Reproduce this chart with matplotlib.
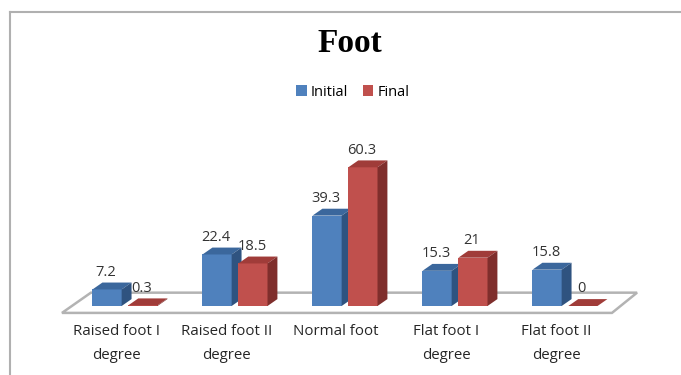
import matplotlib.pyplot as plt
from matplotlib.patches import Polygon
from matplotlib.lines import Line2D

categories = ['Raised foot I\ndegree', 'Raised foot II\ndegree', 'Normal foot',
              'Flat foot I\ndegree', 'Flat foot II\ndegree']
initial = [7.2, 22.4, 39.3, 15.3, 15.8]
final = [0.3, 18.5, 60.3, 21, 0]
value_labels_initial = ['7.2', '22.4', '39.3', '15.3', '15.8']
value_labels_final = ['0.3', '18.5', '60.3', '21', '0']

# faux-3d look: depth offset in data units
DX, DY = 0.09, 3.0
WIDTH = 0.265
OFFSET = 0.163

colors = {
    'Initial': ('#4F81BD', '#3B679C', '#2F5380'),
    'Final': ('#C0504D', '#A03C39', '#7F2E2C'),
}

fig = plt.figure(figsize=(6.81, 3.75), dpi=100)
ax = fig.add_axes([0, 0, 1, 1])
ax.set_xlim(-125 / 110, (681 - 125) / 110)
ax.set_ylim(-(375 - 306) / 2.3, 306 / 2.3)
ax.axis('off')

# floor
floor = Polygon([(-0.573, -3.0), (4.427, -3.0), (4.655, 5.8), (-0.31, 5.8)],
                closed=True, facecolor='white', edgecolor='#b3b3b3',
                linewidth=1.8, zorder=1)
ax.add_patch(floor)

x = list(range(len(categories)))


def draw_bars(xs, vals, name, shift, labels, z):
    front, top, side = colors[name]
    bars = ax.bar([xi + shift for xi in xs], vals, width=WIDTH, color=front,
                  label=name, zorder=z)
    for b, v, lab in zip(bars, vals, labels):
        x0 = b.get_x()
        x1 = x0 + b.get_width()
        ax.add_patch(Polygon([(x0, v), (x1, v), (x1 + DX, v + DY), (x0 + DX, v + DY)],
                             closed=True, facecolor=top, edgecolor='none', zorder=z))
        ax.add_patch(Polygon([(x1, 0), (x1 + DX, DY), (x1 + DX, v + DY), (x1, v)],
                             closed=True, facecolor=side, edgecolor='none', zorder=z))
        ax.text((x0 + x1) / 2 - 0.01, v + DY + 1.2, lab, ha='center', va='bottom',
                fontsize=10.5, color='#333333', family='Open Sans', zorder=20)
    return bars


for i in x:
    draw_bars([i], [initial[i]], 'Initial', -OFFSET, [value_labels_initial[i]], 3 + 2 * i)
    draw_bars([i], [final[i]], 'Final', OFFSET, [value_labels_final[i]], 4 + 2 * i)

for xi, cat in zip(x, categories):
    ax.text(xi - 0.08, -8.0, cat, ha='center', va='top', fontsize=10.8,
            color='#262626', family='Open Sans', linespacing=1.75)

fig.text(350 / 681, 1 - 44 / 375, 'Foot', ha='center', va='center',
         fontsize=24, fontweight='bold', family='Liberation Serif')

handles = [Polygon([(0, 0)], facecolor=colors[n][0]) for n in ('Initial', 'Final')]
fig.legend(handles, ['Initial', 'Final'], loc='center',
           bbox_to_anchor=(353 / 681, 1 - 92 / 375), ncol=2, frameon=False,
           handlelength=0.7, handleheight=0.7, handletextpad=0.3,
           columnspacing=1.0, prop={'family': 'Open Sans', 'size': 10.5})

# chart border
fig.add_artist(Line2D([10 / 681, 10 / 681], [0, 1 - 12 / 375], color='#b0b0b0', lw=1.5))
fig.add_artist(Line2D([10 / 681, 1], [1 - 12 / 375, 1 - 12 / 375], color='#b0b0b0', lw=1.5))

fig.savefig('out.png', dpi=100)
